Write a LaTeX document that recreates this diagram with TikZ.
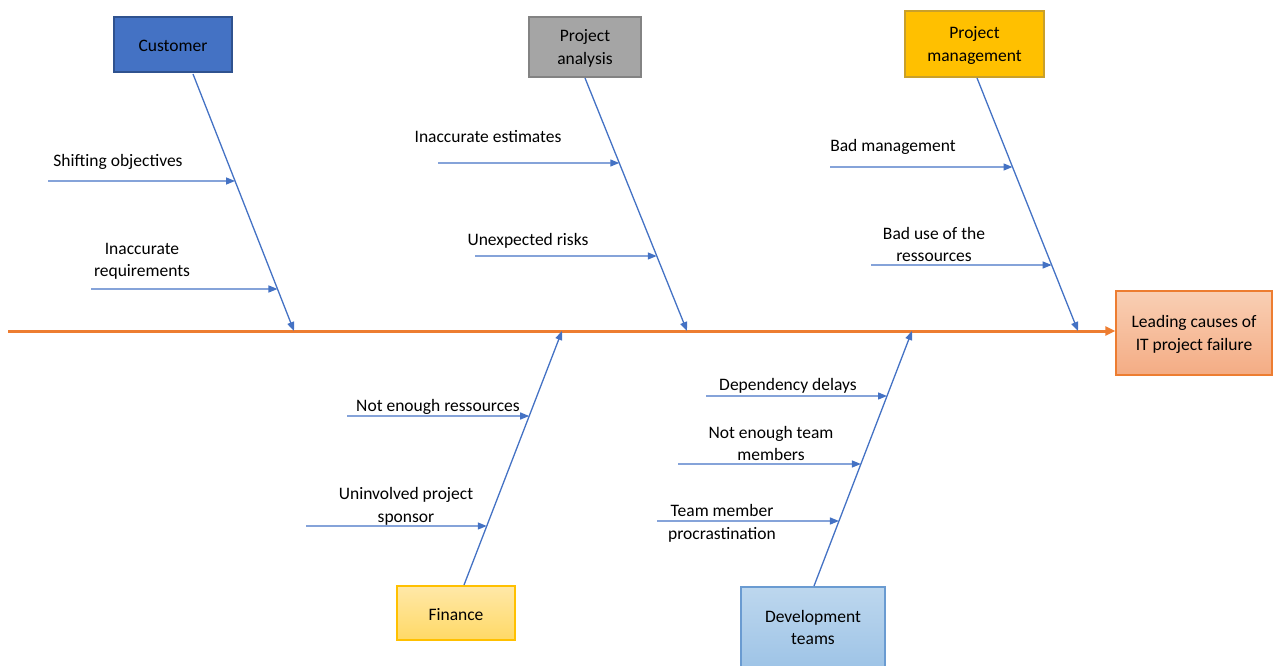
\documentclass[tikz,border=0pt]{standalone}
\usepackage{fontspec}
\setmainfont{Carlito}
\usetikzlibrary{arrows.meta,calc}
\definecolor{cblue}{HTML}{4472C4}
\definecolor{corange}{HTML}{ED7D31}
\definecolor{custfill}{HTML}{4472C4}
\definecolor{custdraw}{HTML}{2F528F}
\definecolor{pafill}{HTML}{A5A5A5}
\definecolor{padraw}{HTML}{838383}
\definecolor{pmfill}{HTML}{FFC000}
\definecolor{pmdraw}{HTML}{C9A02A}
\definecolor{fintop}{HTML}{FFE8A8}
\definecolor{finbot}{HTML}{FFD966}
\definecolor{findraw}{HTML}{FFC000}
\definecolor{devtop}{HTML}{BDD7EE}
\definecolor{devbot}{HTML}{9DC3E6}
\definecolor{devdraw}{HTML}{6A9BD1}
\definecolor{leadtop}{HTML}{F9CFB4}
\definecolor{leadbot}{HTML}{F4AC84}
\begin{document}
\begin{tikzpicture}[x=1pt,y=-1pt,
  font=\fontsize{17.5}{22.5}\selectfont,
  bone/.style={draw=cblue, line width=1.3pt, -{Triangle[length=9pt,width=7pt]}},
  spine/.style={draw=corange, line width=3pt, -{Triangle[length=10pt,width=9pt]}},
  catbox/.style={line width=1.3pt, inner sep=0pt},
  lbl/.style={align=center, inner sep=0pt, anchor=center, yshift=-1.5pt}]
\useasboundingbox (0,0) rectangle (1274,666);

% category boxes
\node[catbox, fill=custfill, draw=custdraw, minimum width=118pt, minimum height=55pt] (cust) at (173,44.5) {};
\node[lbl] (custtxt) at (cust) {Customer};
\node[catbox, fill=pafill, draw=padraw, minimum width=112pt, minimum height=60pt] (pa) at (585,47) {};
\node[lbl] (patxt) at (pa) {Project\\analysis};
\node[catbox, fill=pmfill, draw=pmdraw, minimum width=139pt, minimum height=66pt] (pm) at (974.5,44) {};
\node[lbl] (pmtxt) at (pm) {Project\\management};
\node[catbox, top color=leadtop, bottom color=leadbot, draw=corange, minimum width=156pt, minimum height=84pt] (lead) at (1194,333) {};
\node[lbl] (leadtxt) at (lead) {Leading causes of\\IT project failure};
\node[catbox, top color=fintop, bottom color=finbot, draw=findraw, minimum width=118pt, minimum height=54pt] (fin) at (456,613) {};
\node[lbl] (fintxt) at (fin) {Finance};
\node[catbox, top color=devtop, bottom color=devbot, draw=devdraw, minimum width=144pt, minimum height=84pt] (dev) at (813,629) {};
\node[lbl] (devtxt) at (813,626) {Development\\teams};

% spine
\coordinate (spineL) at (8,331);
\draw[spine] (spineL) -- (spineL -| lead.west);

% diagonal bones
\coordinate (ctop) at (193,74);  \coordinate (cbot) at (294,331);
\coordinate (atop) at (585,78);  \coordinate (abot) at (687,331);
\coordinate (mtop) at (977,78);  \coordinate (mbot) at (1078,331);
\coordinate (fbot) at (464,585); \coordinate (ftop) at (562,331);
\coordinate (dbot) at (814,586); \coordinate (dtop) at (912,331);
\draw[bone] (ctop) -- (cbot);
\draw[bone] (atop) -- (abot);
\draw[bone] (mtop) -- (mbot);
\draw[bone] (fbot) -- (ftop);
\draw[bone] (dbot) -- (dtop);

% small bones: Customer
\coordinate (s1) at (48,181);
\draw[bone] (s1) -- ($(ctop)!{107/257}!(cbot)$);
\node[lbl] (t1) at (118,160) {Shifting objectives};
\coordinate (s2) at (91,289);
\draw[bone] (s2) -- ($(ctop)!{215/257}!(cbot)$);
\node[lbl] (t2) at (142,260) {Inaccurate\\requirements};

% Project analysis
\coordinate (s3) at (438,163);
\draw[bone] (s3) -- ($(atop)!{85/253}!(abot)$);
\node[lbl] (t3) at (488,135) {Inaccurate estimates};
\coordinate (s4) at (475,256);
\draw[bone] (s4) -- ($(atop)!{178/253}!(abot)$);
\node[lbl] (t4) at (528,239) {Unexpected risks};

% Project management
\coordinate (s5) at (830,167);
\draw[bone] (s5) -- ($(mtop)!{89/253}!(mbot)$);
\node[lbl] (t5) at (893,145) {Bad management};
\coordinate (s6) at (871,265);
\draw[bone] (s6) -- ($(mtop)!{187/253}!(mbot)$);
\node[lbl] (t6) at (934,243) {Bad use of the\\ressources};

% Finance
\coordinate (s7) at (347,416);
\draw[bone] (s7) -- ($(fbot)!{169/254}!(ftop)$);
\node[lbl] (t7) at (438,405) {Not enough ressources};
\coordinate (s8) at (306,526);
\draw[bone] (s8) -- ($(fbot)!{59/254}!(ftop)$);
\node[lbl] (t8) at (406,505) {Uninvolved project\\sponsor};

% Development teams
\coordinate (s9) at (706,396);
\draw[bone] (s9) -- ($(dbot)!{190/255}!(dtop)$);
\node[lbl] (t9) at (788,384) {Dependency delays};
\coordinate (s10) at (678,464);
\draw[bone] (s10) -- ($(dbot)!{122/255}!(dtop)$);
\node[lbl] (t10) at (771,442) {Not enough team\\members};
\coordinate (s11) at (657,521);
\draw[bone] (s11) -- ($(dbot)!{65/255}!(dtop)$);
\node[lbl] (t11) at (722,522) {Team member\\procrastination};
\end{tikzpicture}
\end{document}
